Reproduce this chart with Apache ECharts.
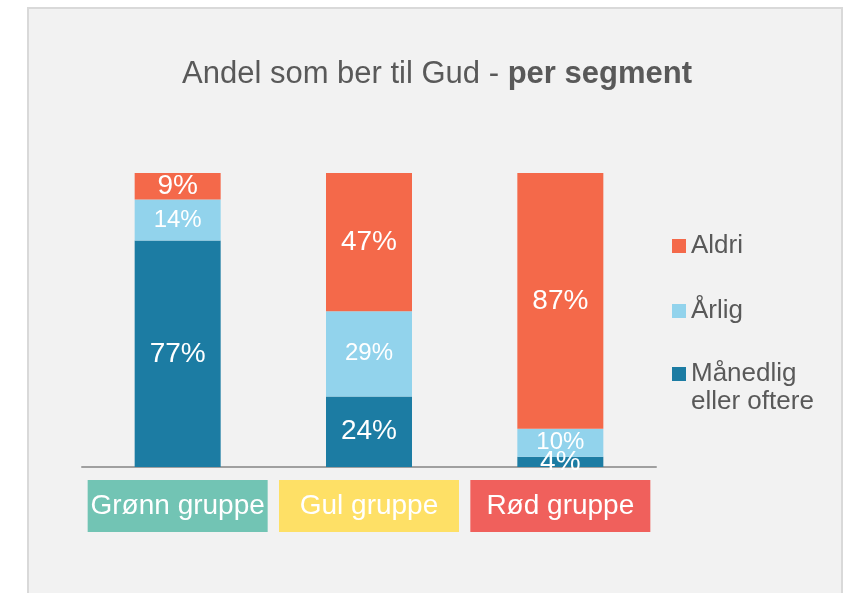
<!DOCTYPE html>
<html>
<head>
<meta charset="utf-8">
<script src="https://cdn.jsdelivr.net/npm/echarts@6/dist/echarts.min.js"></script>
<style>
    html, body { margin: 0; padding: 0; background: #fff; }
    #chart { width: 846px; height: 593px; }
</style>
</head>
<body>
<div id="chart"></div>
<script>
const groups = ['Grønn gruppe', 'Gul gruppe', 'Rød gruppe'];
const groupKeys = ['g', 'y', 'r'];
const monthly = [77, 24, 3.5];
const yearly = [14, 29, 9.5];
const never = [9, 47, 87];

const fontFamily = '"Liberation Sans", Arial, sans-serif';
const textColor = '#595959';

const myChart = echarts.init(document.getElementById('chart'));

const boxStyle = (color) => ({
    backgroundColor: color,
    width: 180,
    height: 52,
    lineHeight: 52,
    align: 'center',
    color: '#fff',
    fontSize: 28,
    fontFamily: fontFamily
});

const seriesDefaults = {
    type: 'bar',
    stack: 'total',
    barWidth: 86,
    animation: false,
    label: {
        show: true,
        position: 'inside',
        color: '#fff',
        fontSize: 28,
        fontFamily: fontFamily,
        formatter: (item) => Math.round(item.value) + '%'
    }
};

const legendText = { fontSize: 26, lineHeight: 28, color: textColor, fontFamily: fontFamily };

const option = {
    backgroundColor: '#fff',
    textStyle: { fontFamily: fontFamily },
    graphic: [{
        type: 'rect',
        z: -10,
        silent: true,
        shape: { x: 28, y: 8, width: 814, height: 620 },
        style: { fill: '#f2f2f2', stroke: '#d9d9d9', lineWidth: 2 }
    }],
    title: {
        text: '{a|Andel som ber til Gud - }{b|per segment}',
        left: 177,
        top: 54,
        textStyle: {
            rich: {
                a: { fontSize: 31, color: textColor, fontWeight: 'normal', fontFamily: fontFamily },
                b: { fontSize: 31, color: textColor, fontWeight: 'bold', fontFamily: fontFamily }
            }
        }
    },
    legend: [
        {
            orient: 'vertical',
            left: 672,
            top: 232,
            padding: 0,
            itemGap: 37,
            itemWidth: 14,
            itemHeight: 14,
            icon: 'rect',
            selectedMode: false,
            data: ['Aldri', 'Årlig'],
            textStyle: legendText
        },
        {
            orient: 'vertical',
            left: 672,
            top: 332,
            padding: 0,
            itemWidth: 14,
            itemHeight: 14,
            icon: 'rect',
            selectedMode: false,
            data: ['Månedlig'],
            // leading empty line keeps the marker level with the first line
            formatter: () => '\nMånedlig\neller oftere',
            textStyle: legendText
        }
    ],
    grid: {
        left: 82,
        right: 190,
        top: 173,
        bottom: 126
    },
    xAxis: {
        type: 'category',
        data: groups,
        axisTick: { show: false },
        axisLine: { lineStyle: { color: '#a0a0a0', width: 2 } },
        axisLabel: {
            margin: 13,
            interval: 0,
            formatter: (value, index) => '{' + groupKeys[index] + '|' + value + '}',
            rich: {
                g: boxStyle('#72c4b4'),
                y: boxStyle('#fee066'),
                r: boxStyle('#f0605c')
            }
        }
    },
    yAxis: {
        type: 'value',
        min: 0,
        max: 100,
        show: false
    },
    series: [
        {
            ...seriesDefaults,
            name: 'Månedlig',
            data: monthly,
            itemStyle: { color: '#1c7ca3' }
        },
        {
            ...seriesDefaults,
            name: 'Årlig',
            data: yearly,
            itemStyle: { color: '#92d3ec' },
            label: { ...seriesDefaults.label, fontSize: 24 }
        },
        {
            ...seriesDefaults,
            name: 'Aldri',
            data: never,
            itemStyle: { color: '#f4694a' }
        }
    ]
};

myChart.setOption(option);

window.onresize = function () {
    myChart.resize();
};
</script>
</body>
</html>
